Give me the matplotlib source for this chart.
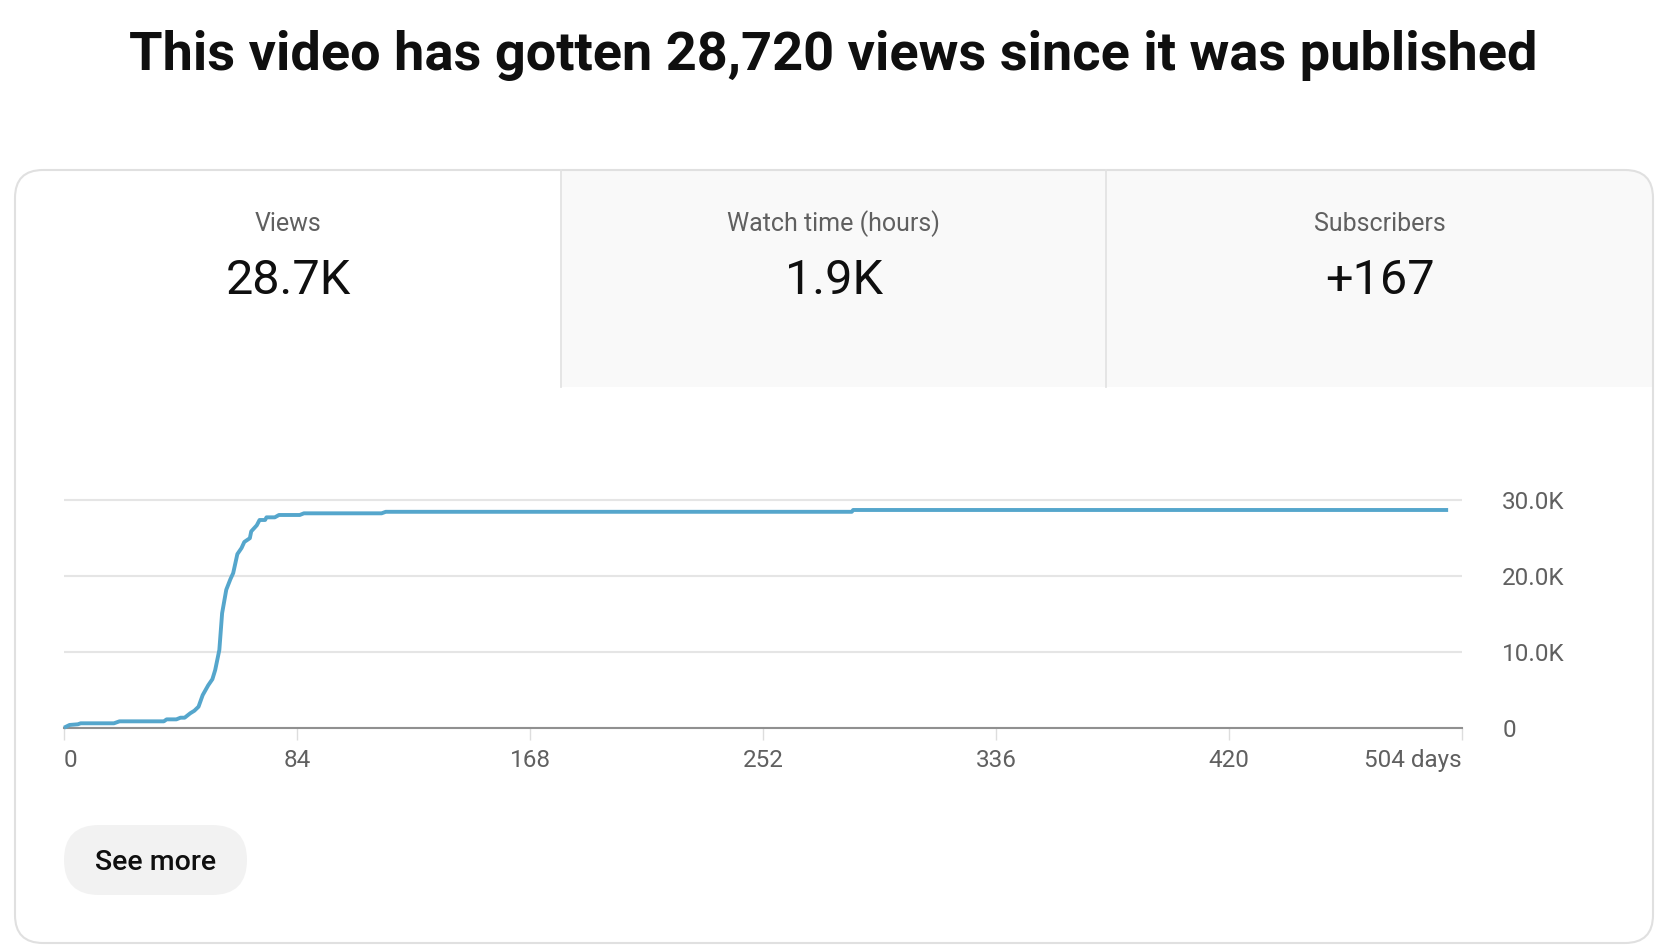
import matplotlib
matplotlib.use('Agg')
import matplotlib.pyplot as plt
from matplotlib.patches import FancyBboxPatch, Rectangle

plt.rcParams['font.family'] = ['Roboto', 'DejaVu Sans']

title = 'This video has gotten 28,720 views since it was published'
tab_labels = ['Views', 'Watch time (hours)', 'Subscribers']
tab_values = ['28.7K', '1.9K', '+167']

# cumulative views per day since publishing
days = [0, 2, 5, 6, 18, 20, 36, 37, 40.5, 42, 43.5, 45.5, 47, 48.5, 50, 52,
        53.5, 54.5, 56, 57, 58.5, 60, 61, 62.5, 64, 65, 67, 67.5, 69.5, 70.5,
        72.5, 73, 76, 77.5, 85, 86.5, 114.5, 116, 284, 284.5, 499]
views = [0, 360, 450, 580, 580, 840, 840, 1100, 1100, 1320, 1320, 1900, 2240,
         2770, 4300, 5600, 6400, 7600, 10250, 15100, 18200, 19600, 20400,
         22900, 23700, 24500, 25000, 25900, 26700, 27400, 27400, 27750, 27750,
         28060, 28060, 28280, 28280, 28480, 28480, 28720, 28720]

x_ticks = [0, 84, 168, 252, 336, 420, 504]
x_labels = ['0', '84', '168', '252', '336', '420', '504 days']
y_ticks = [0, 10000, 20000, 30000]
y_labels = ['0', '10.0K', '20.0K', '30.0K']

W, H = 1660, 952
fig = plt.figure(figsize=(W / 100, H / 100), dpi=100)

# pixel-space layer for the card, tabs and button
bg = fig.add_axes([0, 0, 1, 1])
bg.set_xlim(0, W)
bg.set_ylim(H, 0)
bg.axis('off')

bg.text(833, 70, title, ha='center', va='baseline', fontsize=39,
        fontweight='bold', color='#0f0f0f')

cl, ct, cr, cb = 15, 170, 1653, 943
card = FancyBboxPatch((cl, ct), cr - cl, cb - ct,
                      boxstyle='round,pad=0,rounding_size=28',
                      fc='white', ec='none')
bg.add_patch(card)

edges = [cl, 561, 1106, cr]
tab_bottom = 387
for i in range(3):
    if i > 0:
        r = Rectangle((edges[i], ct), edges[i + 1] - edges[i], tab_bottom - ct,
                      fc='#f9f9f9', ec='none')
        bg.add_patch(r)
        r.set_clip_path(card)
        bg.plot([edges[i], edges[i]], [ct, tab_bottom], color='#e3e3e3', lw=1.3)
    cx = (edges[i] + edges[i + 1]) / 2
    bg.text(cx, 231, tab_labels[i], ha='center', va='baseline', fontsize=18,
            color='#606060')
    bg.text(cx, 294, tab_values[i], ha='center', va='baseline', fontsize=35,
            color='#0f0f0f')

bg.add_patch(FancyBboxPatch((cl, ct), cr - cl, cb - ct,
                            boxstyle='round,pad=0,rounding_size=28',
                            fc='none', ec='#e0e0e0', lw=1.5))

bg.add_patch(FancyBboxPatch((64, 825), 183, 70,
                            boxstyle='round,pad=0,rounding_size=35',
                            fc='#f2f2f2', ec='none'))
bg.text(155.5, 860, 'See more', ha='center', va='center_baseline',
        fontsize=20.5, fontweight='medium', color='#0f0f0f')

# chart
y0, y_top = 727.7, 492.7
ax = fig.add_axes([64 / W, 1 - y0 / H, 1398 / W, (y0 - y_top) / H])
ax.set_facecolor('none')
ax.set_xlim(0, 504)
ax.set_ylim(0, 31000)
ax.plot(days, views, color='#55a6cc', lw=2.8, solid_joinstyle='round',
        solid_capstyle='butt', clip_on=False, zorder=3)

ax.set_yticks(y_ticks)
ax.set_yticklabels(y_labels)
ax.yaxis.tick_right()
ax.yaxis.grid(True, color='#e5e5e5', lw=1.5)
ax.set_axisbelow(True)
ax.tick_params(axis='y', length=0, pad=29, labelsize=17.5, labelcolor='#606060')

ax.set_xticks(x_ticks)
ax.set_xticklabels(x_labels)
ax.tick_params(axis='x', length=8.6, width=1, color='#dddddd', pad=7,
               labelsize=17.5, labelcolor='#606060')
labels = ax.get_xticklabels()
labels[0].set_ha('left')
labels[-1].set_ha('right')

for s in ['top', 'left', 'right']:
    ax.spines[s].set_visible(False)
ax.spines['bottom'].set_color('#909090')
ax.spines['bottom'].set_linewidth(1.5)
ax.spines['bottom'].set_zorder(2.5)

fig.savefig('out.png', dpi=100)
